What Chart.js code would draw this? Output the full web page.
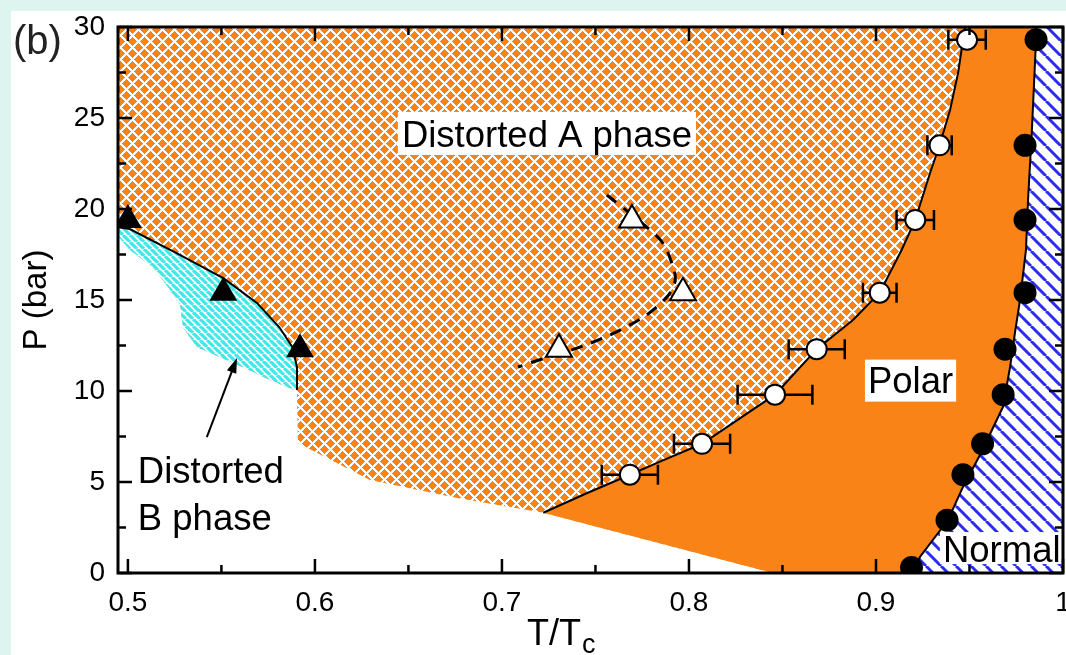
<!DOCTYPE html>
<html>
<head>
<meta charset="utf-8">
<script src="https://cdn.jsdelivr.net/npm/chart.js@4.4.0/dist/chart.umd.min.js"></script>
<style>
  html, body { margin: 0; padding: 0; background: #ddf4ef; }
  #wrap { position: absolute; left: 11px; top: 11px; width: 1055px; height: 644px; background: #fff; }
</style>
</head>
<body>
<div id="wrap"><canvas id="phase"></canvas></div>
<script>
const FONT = '"Liberation Sans", Arial, sans-serif';
const ORANGE = '#f98317';

// axes
const xRange = [0.4947, 1];
const yRange = [0, 30];
const xTicks = [0.5, 0.6, 0.7, 0.8, 0.9, 1.0];
const xTickLabels = ['0.5', '0.6', '0.7', '0.8', '0.9', '1'];
const yTicks = [0, 5, 10, 15, 20, 25, 30];
const yTickLabels = ['0', '5', '10', '15', '20', '25', '30'];

// open circles: polar transition, with error in T/Tc
const openX = [0.7684, 0.807, 0.846, 0.8683, 0.902, 0.921, 0.934, 0.9487];
const openY = [5.4, 7.1, 9.8, 12.3, 15.4, 19.4, 23.5, 29.3];
const openErr = [0.015, 0.015, 0.02, 0.015, 0.009, 0.01, 0.0065, 0.01];

// filled circles: normal transition
const fullX = [0.9856, 0.9797, 0.9797, 0.9797, 0.969, 0.968, 0.957, 0.9465, 0.938, 0.919];
const fullY = [29.3, 23.5, 19.4, 15.4, 12.3, 9.8, 7.1, 5.4, 2.9, 0.3];

// triangles
const triX = [0.5, 0.551, 0.592];
const triY = [19.4, 15.4, 12.3];
const otriX = [0.7305, 0.7968, 0.7695];
const otriY = [12.3, 15.4, 19.4];

// phase boundaries
const polarX = [0.7221, 0.7453, 0.7684, 0.7845, 0.807, 0.846, 0.8683, 0.8877, 0.902, 0.9137, 0.921, 0.9289, 0.934, 0.9396, 0.9439, 0.9476];
const polarY = [3.31, 4.38, 5.4, 6.12, 7.1, 9.8, 12.3, 13.9, 15.4, 17.75, 19.4, 21.98, 23.5, 25.44, 27.47, 30];
const normX = [0.9198, 0.9235, 0.9385, 0.9465, 0.9556, 0.962, 0.9679, 0.9717, 0.9743, 0.977, 0.9802, 0.9813, 0.9833, 0.9859];
const normY = [0, 0.88, 2.91, 4.73, 6.48, 7.86, 9.12, 11.32, 13.19, 15.0, 17.75, 20.49, 24.18, 30];
const bX = [0.4947, 0.501, 0.526, 0.551, 0.569, 0.581, 0.588, 0.5904, 0.5904];
const bY = [19.0, 18.9, 17.58, 16.2, 14.84, 13.5, 12.4, 11.3, 10.05];
const cyanLowX = [0.4947, 0.501, 0.5134, 0.5225, 0.528, 0.5294, 0.537, 0.549, 0.5615, 0.576, 0.5904];
const cyanLowY = [18.5, 17.75, 16.8, 15.55, 14.73, 13.5, 12.4, 11.87, 11.3, 10.6, 10.0];
const whiteEdgeX = [0.5909, 0.6294, 0.676, 0.7221, 0.845];
const whiteEdgeY = [7.14, 5.11, 4.12, 3.31, 0];
const dashX = [0.7561, 0.7695, 0.7856, 0.792, 0.7925, 0.7882, 0.7765, 0.7578, 0.739, 0.723, 0.7086];
const dashY = [20.77, 19.67, 18.19, 16.65, 15.99, 15.16, 14.12, 13.08, 12.31, 11.81, 11.32];
const arrowX = [0.5422, 0.5583];
const arrowY = [7.47, 11.81];

const pts = (xs, ys) => xs.map((x, i) => ({ x, y: ys[i] }));
const rev = a => a.slice().reverse();

// fill patterns (pixel exact, like the printed hatches)
function crossHatch(p, w) {
  const c = document.createElement('canvas');
  c.width = p; c.height = p;
  const g = c.getContext('2d');
  const img = g.createImageData(p, p);
  for (let j = 0; j < p; j++) {
    for (let i = 0; i < p; i++) {
      const s = (i + j) % p, d = ((i - j) % p + p) % p;
      const white = s < w || d < w;
      const k = (j * p + i) * 4;
      img.data[k] = white ? 255 : 249;
      img.data[k + 1] = white ? 255 : 131;
      img.data[k + 2] = white ? 255 : 23;
      img.data[k + 3] = 255;
    }
  }
  g.putImageData(img, 0, 0);
  return g.createPattern(c, 'repeat');
}
function stripes(color, p, w) {
  const c = document.createElement('canvas');
  c.width = p; c.height = p;
  const g = c.getContext('2d');
  g.fillStyle = '#fff'; g.fillRect(0, 0, p, p);
  g.strokeStyle = color; g.lineWidth = w;
  g.beginPath();
  [-p, 0, p].forEach(k => { g.moveTo(k, 0); g.lineTo(k + p, p); });
  g.stroke();
  return g.createPattern(c, 'repeat');
}

const shape = (data, bg, order) => ({
  data, showLine: true, fill: 'shape', backgroundColor: bg,
  borderWidth: 0, pointRadius: 0, tension: 0, order
});
const curve = (data, order, extra) => Object.assign({
  data, showLine: true, fill: false, borderColor: '#000', borderWidth: 2,
  pointRadius: 0, tension: 0, order
}, extra || {});

const crossData = pts([xRange[0], xRange[1], xRange[1], xRange[0]], [yRange[0], yRange[0], yRange[1], yRange[1]]);
const whiteData = [{ x: xRange[0], y: yRange[0] }].concat(pts(cyanLowX, cyanLowY), pts(whiteEdgeX, whiteEdgeY));
const cyanData = pts(bX, bY).concat(rev(pts(cyanLowX, cyanLowY)));
const polarData = pts(polarX, polarY).concat(rev(pts(normX, normY)), [{ x: whiteEdgeX[4], y: whiteEdgeY[4] }]);
const normalData = pts(normX, normY).concat([{ x: xRange[1], y: yRange[1] }, { x: xRange[1], y: yRange[0] }]);

const notes = [
  { text: 'Distorted A phase', x: 0.6465, y: 23.41, box: [4, 35, 4, 8] },
  { text: 'Polar', x: 0.8957, y: 9.91, box: [3, 33, 3, 9] },
  { text: 'Normal', x: 0.9358, y: 0.60, box: [3, 30, 3, 2] },
  { text: 'Distorted', x: 0.5053, y: 4.95 },
  { text: 'B phase', x: 0.5053, y: 2.36 }
];

const noPad = s => { s.paddingLeft = 0; s.paddingRight = 0; s.paddingTop = 0; s.paddingBottom = 0; };

const decor = {
  id: 'decor',
  beforeDatasetDraw(chart, args) {
    if (args.index !== 0) return;
    const { ctx, scales: { x, y } } = chart;
    ctx.save();
    ctx.strokeStyle = '#000';
    ctx.lineWidth = 2.5;
    openX.forEach((v, i) => {
      const py = y.getPixelForValue(openY[i]);
      const l = x.getPixelForValue(v - openErr[i]);
      const r = x.getPixelForValue(v + openErr[i]);
      ctx.beginPath();
      ctx.moveTo(l, py); ctx.lineTo(r, py);
      ctx.moveTo(l, py - 10); ctx.lineTo(l, py + 10);
      ctx.moveTo(r, py - 10); ctx.lineTo(r, py + 10);
      ctx.stroke();
    });
    ctx.restore();
  },
  afterDatasetsDraw(chart) {
    const { ctx, chartArea: a, scales: { x, y } } = chart;
    ctx.save();

    // arrow to the distorted B region
    const tx = x.getPixelForValue(arrowX[0]), ty = y.getPixelForValue(arrowY[0]);
    const hx = x.getPixelForValue(arrowX[1]), hy = y.getPixelForValue(arrowY[1]);
    const ang = Math.atan2(hy - ty, hx - tx);
    ctx.strokeStyle = '#000'; ctx.fillStyle = '#000'; ctx.lineWidth = 2;
    ctx.beginPath(); ctx.moveTo(tx, ty);
    ctx.lineTo(hx - 12 * Math.cos(ang), hy - 12 * Math.sin(ang)); ctx.stroke();
    ctx.beginPath();
    ctx.moveTo(hx, hy);
    ctx.lineTo(hx - 15 * Math.cos(ang) + 5 * Math.sin(ang), hy - 15 * Math.sin(ang) - 5 * Math.cos(ang));
    ctx.lineTo(hx - 15 * Math.cos(ang) - 5 * Math.sin(ang), hy - 15 * Math.sin(ang) + 5 * Math.cos(ang));
    ctx.closePath(); ctx.fill();

    // region labels
    ctx.font = '36.5px ' + FONT;
    ctx.textAlign = 'left';
    ctx.textBaseline = 'alphabetic';
    notes.forEach(n => {
      const px = x.getPixelForValue(n.x), py = y.getPixelForValue(n.y);
      if (n.box) {
        const w = ctx.measureText(n.text).width;
        ctx.fillStyle = '#fff';
        ctx.fillRect(px - n.box[0], py - n.box[1], w + n.box[0] + n.box[2], n.box[1] + n.box[3]);
      }
      ctx.fillStyle = '#000';
      ctx.fillText(n.text, px, py);
    });

    // frame and inward ticks
    ctx.strokeStyle = '#000';
    ctx.lineWidth = 3;
    ctx.strokeRect(a.left, a.top, a.right - a.left, a.bottom - a.top);
    const mids = arr => arr.slice(1).map((v, i) => (v + arr[i]) / 2);
    ctx.lineWidth = 2.5;
    ctx.beginPath();
    const xt = (vals, len) => vals.forEach(v => {
      const p = x.getPixelForValue(v);
      ctx.moveTo(p, a.bottom); ctx.lineTo(p, a.bottom - len);
      ctx.moveTo(p, a.top); ctx.lineTo(p, a.top + len);
    });
    const yt = (vals, len) => vals.forEach(v => {
      const p = y.getPixelForValue(v);
      ctx.moveTo(a.left, p); ctx.lineTo(a.left + len, p);
      ctx.moveTo(a.right, p); ctx.lineTo(a.right - len, p);
    });
    xt(xTicks, 14); xt(mids(xTicks), 8);
    yt(yTicks, 14); yt(mids(yTicks), 8);
    ctx.stroke();
    ctx.restore();
  },
  afterDraw(chart) {
    const { ctx, chartArea: a } = chart;
    ctx.save();
    ctx.fillStyle = '#000';
    // y title
    ctx.font = '33px ' + FONT;
    ctx.translate(a.left - 81, (a.top + a.bottom) / 2);
    ctx.rotate(-Math.PI / 2);
    ctx.textAlign = 'center';
    ctx.textBaseline = 'middle';
    ctx.fillText('P (bar)', 0, 0);
    ctx.restore();

    // x title with subscript
    ctx.save();
    ctx.fillStyle = '#000';
    ctx.textBaseline = 'alphabetic';
    ctx.textAlign = 'left';
    const sx = a.left + 409;
    const base = a.bottom + 72;
    ctx.font = '36px ' + FONT;
    const w1 = ctx.measureText('T/T').width;
    ctx.fillText('T/T', sx, base);
    ctx.font = '27px ' + FONT;
    ctx.fillText('c', sx + w1 + 1, base + 8);

    // panel label
    ctx.font = '40px ' + FONT;
    ctx.fillStyle = '#222';
    ctx.fillText('(b)', 2, 43);
    ctx.restore();
  }
};

new Chart(document.getElementById('phase'), {
  type: 'scatter',
  data: {
    datasets: [
      { data: pts(openX, openY), pointStyle: 'circle', pointRadius: 10, backgroundColor: '#fff', borderColor: '#000', borderWidth: 2, order: 1 },
      { data: pts(fullX, fullY), pointStyle: 'circle', pointRadius: 11.5, backgroundColor: '#000', borderColor: '#000', borderWidth: 0, order: 1 },
      { data: pts(triX, triY), pointStyle: 'triangle', pointRadius: 16, backgroundColor: '#000', borderColor: '#000', borderWidth: 0, order: 1 },
      { data: pts(otriX, otriY), pointStyle: 'triangle', pointRadius: 15, backgroundColor: '#fff', borderColor: '#000', borderWidth: 2, order: 1 },
      curve(pts(polarX, polarY), 3),
      curve(pts(normX, normY), 3),
      curve(pts(bX, bY), 3),
      curve(pts(dashX, dashY), 3, { borderDash: [12, 9], borderWidth: 3, tension: 0.3 }),
      shape(normalData, stripes('#2b2bf2', 15, 3), 5),
      shape(polarData, ORANGE, 6),
      shape(cyanData, stripes('#3fe9ea', 7, 3.2), 7),
      shape(whiteData, '#fff', 8),
      shape(crossData, crossHatch(12, 3), 9)
    ]
  },
  options: {
    responsive: true,
    maintainAspectRatio: false,
    animation: false,
    devicePixelRatio: 1,
    events: [],
    layout: { autoPadding: false, padding: { top: 16, right: 3, left: 0, bottom: 0 } },
    plugins: { legend: { display: false }, tooltip: { enabled: false } },
    scales: {
      x: {
        type: 'linear', min: xRange[0], max: xRange[1],
        grid: { display: false, drawTicks: false },
        border: { display: false },
        afterBuildTicks: s => { s.ticks = xTicks.map(v => ({ value: v })); },
        afterFit: s => { s.height = 82; noPad(s); },
        ticks: {
          padding: 13, color: '#000', maxRotation: 0, autoSkip: false,
          font: { family: FONT, size: 28 },
          callback: (v, i) => xTickLabels[i]
        }
      },
      y: {
        type: 'linear', min: yRange[0], max: yRange[1],
        grid: { display: false, drawTicks: false },
        border: { display: false },
        afterBuildTicks: s => { s.ticks = yTicks.map(v => ({ value: v })); },
        afterFit: s => { s.width = 107; noPad(s); },
        ticks: {
          padding: 13, color: '#000', autoSkip: false,
          font: { family: FONT, size: 28 },
          callback: (v, i) => yTickLabels[i]
        }
      }
    }
  },
  plugins: [decor]
});
</script>
</body>
</html>
